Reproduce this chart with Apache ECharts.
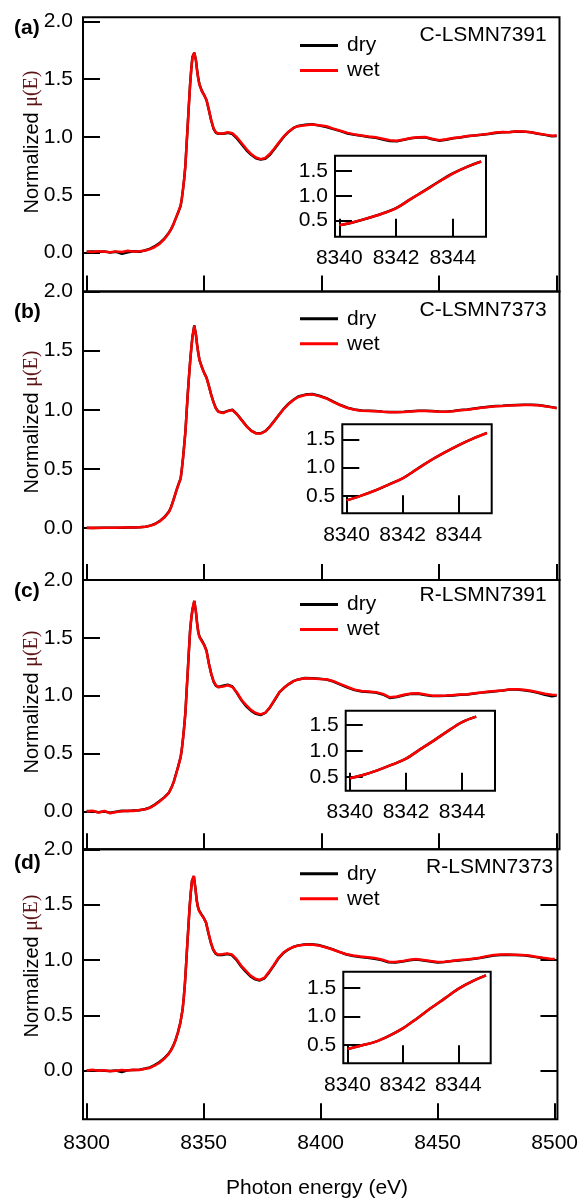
<!DOCTYPE html>
<html>
<head>
<meta charset="utf-8">
<script src="https://cdn.jsdelivr.net/npm/echarts@6/dist/echarts.min.js"></script>
<style>
  html, body { margin: 0; padding: 0; background: #fff; }
  #chart { width: 581px; height: 1202px; }
</style>
</head>
<body>
<div id="chart"></div>
<script>
// Photon energy grid (eV), shared by every spectrum
const energy = [
  8300, 8302.5, 8305, 8307.5, 8310, 8312.5, 8315, 8317.5, 8320, 8322.5, 8325,
  8327, 8329, 8331, 8333, 8335,
  8336, 8337, 8338, 8339,
  8340, 8340.5, 8341, 8341.5, 8342, 8342.5, 8343, 8343.5, 8344, 8344.5, 8345,
  8345.8, 8346.5, 8347, 8347.5,
  8348, 8349, 8350, 8351, 8352, 8353, 8354, 8355, 8356,
  8358, 8360, 8362, 8364, 8366, 8368, 8370, 8372, 8374, 8376, 8378, 8380, 8382, 8384, 8386, 8388, 8390,
  8393, 8396, 8399, 8402, 8405, 8408, 8411, 8414, 8417, 8420, 8423, 8426, 8429, 8432, 8435, 8438, 8441, 8444,
  8447, 8450, 8453, 8456, 8459, 8462, 8465, 8468, 8471, 8474, 8477, 8480, 8483, 8486, 8489, 8492, 8495, 8498,
  8500
];

// (a) C-LSMN7391
const dryA = [
  0.006, 0.008, 0.004, 0.010, 0.000, 0.006, -0.010, 0.002, 0.012, 0.006, 0.020,
  0.034, 0.055, 0.082, 0.120, 0.172,
  0.205, 0.250, 0.300, 0.350,
  0.405, 0.468, 0.548, 0.640, 0.752, 0.930, 1.105, 1.285, 1.452, 1.585, 1.692,
  1.728, 1.662, 1.575, 1.505,
  1.455, 1.400, 1.362, 1.318, 1.232, 1.140, 1.070, 1.035, 1.028,
  1.028, 1.035, 1.025, 0.985, 0.935, 0.885, 0.845, 0.815, 0.805, 0.812, 0.845, 0.898, 0.952, 1.004, 1.045, 1.078, 1.095,
  1.105, 1.110, 1.098, 1.085, 1.068, 1.050, 1.030, 1.018, 1.010, 1.000, 0.992, 0.978, 0.965, 0.962, 0.975, 0.988, 0.995, 0.996,
  0.980, 0.968, 0.976, 0.988, 0.996, 1.006, 1.012, 1.018, 1.025, 1.035, 1.040, 1.042, 1.048, 1.046, 1.040, 1.028, 1.018, 1.006,
  1.008
];
const wetA = [
  0.010, 0.004, 0.012, 0.006, 0.002, 0.010, 0.004, 0.016, 0.008, 0.012, 0.018,
  0.030, 0.048, 0.075, 0.115, 0.170,
  0.205, 0.248, 0.300, 0.352,
  0.410, 0.470, 0.550, 0.640, 0.750, 0.930, 1.100, 1.280, 1.450, 1.585, 1.690,
  1.730, 1.660, 1.570, 1.500,
  1.450, 1.395, 1.360, 1.320, 1.235, 1.145, 1.075, 1.040, 1.030,
  1.030, 1.040, 1.032, 0.995, 0.945, 0.895, 0.852, 0.822, 0.808, 0.818, 0.855, 0.905, 0.958, 1.008, 1.048, 1.078, 1.093,
  1.102, 1.108, 1.102, 1.092, 1.072, 1.053, 1.035, 1.022, 1.012, 1.004, 0.998, 0.985, 0.972, 0.968, 0.978, 0.990, 0.998, 1.000,
  0.984, 0.972, 0.980, 0.990, 0.998, 1.008, 1.012, 1.020, 1.028, 1.038, 1.042, 1.040, 1.050, 1.048, 1.040, 1.030, 1.020, 1.010,
  1.012
];

// (b) C-LSMN7373
const dryB = [
  0.001, 0.000, 0.001, 0.001, 0.002, 0.001, 0.002, 0.004, 0.004, 0.007, 0.011,
  0.020, 0.034, 0.058, 0.090, 0.138,
  0.182, 0.242, 0.306, 0.366,
  0.420, 0.500, 0.592, 0.700, 0.812, 0.972, 1.132, 1.272, 1.402, 1.517, 1.617,
  1.712, 1.632, 1.548, 1.478,
  1.422, 1.362, 1.312, 1.272, 1.202, 1.126, 1.062, 1.012, 0.985,
  0.975, 0.990, 1.000, 0.962, 0.912, 0.862, 0.824, 0.803, 0.801, 0.820, 0.860, 0.910, 0.962, 1.012, 1.053, 1.085, 1.112,
  1.128, 1.133, 1.118, 1.098, 1.068, 1.040, 1.017, 1.002, 0.994, 0.992, 0.990, 0.984, 0.980, 0.980, 0.982, 0.988, 0.992, 0.992,
  0.990, 0.986, 0.984, 0.990, 0.997, 1.002, 1.010, 1.018, 1.026, 1.032, 1.034, 1.038, 1.040, 1.042, 1.042, 1.040, 1.032, 1.022,
  1.014
];
const wetB = [
  0.000, 0.001, 0.000, 0.002, 0.001, 0.002, 0.003, 0.003, 0.005, 0.006, 0.010,
  0.018, 0.032, 0.055, 0.088, 0.135,
  0.180, 0.240, 0.305, 0.365,
  0.420, 0.500, 0.590, 0.700, 0.810, 0.970, 1.130, 1.270, 1.400, 1.515, 1.615,
  1.710, 1.630, 1.545, 1.475,
  1.420, 1.360, 1.310, 1.270, 1.200, 1.125, 1.060, 1.010, 0.982,
  0.972, 0.988, 0.998, 0.960, 0.910, 0.860, 0.822, 0.800, 0.798, 0.818, 0.858, 0.908, 0.960, 1.010, 1.050, 1.082, 1.108,
  1.125, 1.130, 1.115, 1.095, 1.065, 1.038, 1.015, 1.000, 0.992, 0.990, 0.988, 0.982, 0.978, 0.978, 0.980, 0.986, 0.990, 0.990,
  0.988, 0.984, 0.982, 0.988, 0.995, 1.000, 1.008, 1.016, 1.024, 1.030, 1.032, 1.036, 1.038, 1.040, 1.040, 1.038, 1.030, 1.020,
  1.012
];

// (c) R-LSMN7391
const dryC = [
  0.002, 0.000, -0.008, -0.002, -0.012, -0.004, 0.004, 0.002, 0.006, 0.008, 0.020,
  0.034, 0.058, 0.088, 0.120, 0.162,
  0.202, 0.252, 0.322, 0.392,
  0.470, 0.540, 0.630, 0.735, 0.850, 1.030, 1.205, 1.390, 1.560, 1.665, 1.745,
  1.818, 1.722, 1.625, 1.548,
  1.510, 1.478, 1.440, 1.388, 1.278, 1.188, 1.120, 1.085, 1.075,
  1.085, 1.095, 1.080, 1.020, 0.955, 0.905, 0.868, 0.842, 0.832, 0.850, 0.898, 0.962, 1.028, 1.068, 1.100, 1.125, 1.140,
  1.152, 1.150, 1.145, 1.140, 1.122, 1.095, 1.070, 1.048, 1.036, 1.032, 1.026, 1.010, 0.980, 0.988, 1.004, 1.015, 1.016, 1.006,
  0.996, 0.996, 0.998, 1.002, 1.008, 1.010, 1.018, 1.026, 1.032, 1.038, 1.044, 1.052, 1.052, 1.046, 1.038, 1.025, 1.008, 0.995,
  1.000
];
const wetC = [
  -0.002, 0.004, -0.012, 0.002, -0.018, -0.006, 0.000, 0.004, 0.002, 0.010, 0.018,
  0.030, 0.055, 0.085, 0.118, 0.160,
  0.200, 0.250, 0.320, 0.390,
  0.470, 0.540, 0.630, 0.735, 0.850, 1.030, 1.205, 1.390, 1.560, 1.665, 1.745,
  1.820, 1.720, 1.620, 1.545,
  1.505, 1.470, 1.435, 1.385, 1.275, 1.190, 1.125, 1.090, 1.072,
  1.078, 1.090, 1.075, 1.025, 0.960, 0.915, 0.875, 0.850, 0.838, 0.852, 0.900, 0.965, 1.030, 1.070, 1.100, 1.125, 1.140,
  1.150, 1.148, 1.143, 1.142, 1.125, 1.100, 1.075, 1.052, 1.040, 1.035, 1.030, 1.015, 0.985, 0.992, 1.008, 1.018, 1.020, 1.010,
  1.000, 1.000, 1.002, 1.005, 1.010, 1.012, 1.020, 1.028, 1.035, 1.040, 1.045, 1.055, 1.055, 1.050, 1.042, 1.030, 1.016, 1.008,
  1.005
];

// (d) R-LSMN7373
const dryD = [
  0.000, 0.004, 0.002, 0.000, -0.002, 0.002, -0.012, 0.004, 0.006, 0.008, 0.020,
  0.030, 0.050, 0.076, 0.110, 0.154,
  0.186, 0.226, 0.278, 0.346,
  0.430, 0.490, 0.555, 0.660, 0.790, 0.960, 1.140, 1.310, 1.480, 1.610, 1.715,
  1.758, 1.642, 1.545, 1.485,
  1.450, 1.415, 1.382, 1.338, 1.245, 1.160, 1.095, 1.060, 1.045,
  1.045, 1.055, 1.045, 1.002, 0.942, 0.895, 0.852, 0.825, 0.815, 0.835, 0.888, 0.950, 1.015, 1.062, 1.092, 1.115, 1.130,
  1.140, 1.142, 1.135, 1.118, 1.098, 1.074, 1.050, 1.036, 1.028, 1.020, 1.012, 1.000, 0.980, 0.978, 0.986, 0.998, 1.004, 0.996,
  0.986, 0.978, 0.982, 0.990, 0.996, 1.002, 1.010, 1.018, 1.030, 1.040, 1.046, 1.048, 1.046, 1.044, 1.036, 1.026, 1.016, 1.005,
  1.002
];
const wetD = [
  0.002, 0.008, 0.000, 0.004, -0.004, 0.000, 0.006, 0.002, 0.008, 0.006, 0.018,
  0.025, 0.045, 0.070, 0.105, 0.150,
  0.182, 0.222, 0.275, 0.345,
  0.430, 0.490, 0.555, 0.660, 0.790, 0.960, 1.140, 1.310, 1.480, 1.610, 1.715,
  1.760, 1.640, 1.540, 1.480,
  1.445, 1.410, 1.380, 1.340, 1.250, 1.165, 1.100, 1.065, 1.050,
  1.052, 1.060, 1.050, 1.010, 0.950, 0.905, 0.860, 0.832, 0.820, 0.840, 0.895, 0.955, 1.020, 1.065, 1.095, 1.115, 1.128,
  1.138, 1.140, 1.132, 1.115, 1.095, 1.072, 1.052, 1.040, 1.032, 1.025, 1.018, 1.005, 0.985, 0.982, 0.990, 1.002, 1.008, 1.000,
  0.990, 0.982, 0.985, 0.992, 1.000, 1.005, 1.012, 1.020, 1.035, 1.045, 1.050, 1.050, 1.048, 1.045, 1.040, 1.030, 1.020, 1.012,
  1.008
];

const panelTags = ['(a)', '(b)', '(c)', '(d)'];
const sampleNames = ['C-LSMN7391', 'C-LSMN7373', 'R-LSMN7391', 'R-LSMN7373'];
const seriesNames = ['dry', 'wet'];
const dryAll = [dryA, dryB, dryC, dryD];
const wetAll = [wetA, wetB, wetC, wetD];

// tick positions
const xTicks = [8300, 8350, 8400, 8450, 8500];
const yTicks = [0, 0.5, 1.0, 1.5, 2.0];
const insetXTicks = [8340, 8342, 8344];
const insetYTicks = [0.5, 1.0, 1.5];
// energy window shown in each inset
const insetWindow = [[8340, 8345], [8340, 8345], [8340, 8344.5], [8340, 8345]];

// ---- layout ----
const FONT = '"Liberation Sans", Arial, Helvetica, sans-serif';
const FS = 21;
const mainBoxes = [
  { top: 17.3,  height: 274.2, yMin: -0.337, yMax: 2.035 },
  { top: 291.5, height: 288.5, yMin: -0.44,  yMax: 2.0 },
  { top: 580,   height: 269.3, yMin: -0.329, yMax: 2.0 },
  { top: 849.3, height: 270,   yMin: -0.439, yMax: 2.0 }
];
const insetBoxes = [
  { left: 335,   top: 155.7, width: 151,   height: 81,   yMin: 0.177, yMax: 1.81 },
  { left: 342.3, top: 424.3, width: 149.4, height: 89,   yMin: 0.19,  yMax: 1.77 },
  { left: 345.7, top: 710.7, width: 149.3, height: 80,   yMin: 0.23,  yMax: 1.78 },
  { left: 343.3, top: 971.7, width: 147.4, height: 91.6, yMin: 0.18,  yMax: 1.78 }
];
const legendTops = [35, 308.3, 594, 863.3];
const nameY = [35, 310, 595.7, 867.7];
const nameRight = [546.7, 546.7, 546.7, 553.3];
const tagY = [28, 312, 591, 863];
const titleY = [142, 422, 702, 966];

const grids = [], xAxes = [], yAxes = [], series = [], legends = [], graphics = [];

const tickStyle = { color: '#000', width: 2 };
const plainNum = v => String(v);
const oneDec = v => v.toFixed(1);
const hiddenLine = { show: false, onZero: false };

mainBoxes.forEach((b, i) => {
  grids.push({ left: 83, width: 476.5, top: b.top, height: b.height,
    show: true, borderColor: '#000', borderWidth: 2, backgroundColor: 'transparent' });
  xAxes.push({
    type: 'value', gridIndex: i, min: 8298.43, max: 8501.2, position: 'bottom',
    axisLine: hiddenLine, splitLine: { show: false },
    axisTick: { show: true, inside: true, length: 16, lineStyle: tickStyle, customValues: xTicks },
    axisLabel: { show: i === 3, customValues: xTicks, fontSize: FS, fontFamily: FONT, color: '#000', margin: 13,
      formatter: plainNum }
  });
  yAxes.push({
    type: 'value', gridIndex: i, min: b.yMin, max: b.yMax, position: 'left',
    axisLine: hiddenLine, splitLine: { show: false },
    axisTick: { show: true, inside: true, length: 17, lineStyle: tickStyle, customValues: yTicks },
    axisLabel: { show: true, customValues: yTicks, fontSize: FS, fontFamily: FONT, color: '#000', margin: 10,
      formatter: oneDec }
  });
});

insetBoxes.forEach((b, i) => {
  grids.push({ left: b.left, top: b.top, width: b.width, height: b.height,
    show: true, borderColor: '#000', borderWidth: 2, backgroundColor: 'transparent' });
  xAxes.push({
    type: 'value', gridIndex: 4 + i, min: 8339.85, max: 8345.17, position: 'bottom',
    axisLine: hiddenLine, splitLine: { show: false },
    axisTick: { show: true, inside: true, length: 18, lineStyle: tickStyle, customValues: insetXTicks },
    axisLabel: { show: true, customValues: insetXTicks, fontSize: FS, fontFamily: FONT, color: '#000', margin: 11,
      formatter: plainNum }
  });
  yAxes.push({
    type: 'value', gridIndex: 4 + i, min: b.yMin, max: b.yMax, position: 'left',
    axisLine: hiddenLine, splitLine: { show: false },
    axisTick: { show: true, inside: true, length: 17, lineStyle: tickStyle, customValues: insetYTicks },
    axisLabel: { show: true, customValues: insetYTicks, fontSize: FS, fontFamily: FONT, color: '#000', margin: 7,
      formatter: oneDec }
  });
});

// mirrored ticks on the right edge of the bottom panel
yAxes.push({
  type: 'value', gridIndex: 3, position: 'right', min: mainBoxes[3].yMin, max: mainBoxes[3].yMax,
  axisLine: hiddenLine, splitLine: { show: false }, axisLabel: { show: false },
  axisTick: { show: true, inside: true, length: 17, lineStyle: tickStyle, customValues: [0, 0.5, 1.0, 1.5] }
});

const colors = ['#000000', '#ff0000'];

for (let i = 0; i < 4; i++) {
  [dryAll[i], wetAll[i]].forEach((vals, k) => {
    series.push({
      type: 'line', name: seriesNames[k], xAxisIndex: i, yAxisIndex: i,
      data: energy.map((e, j) => [e, vals[j]]),
      showSymbol: false, symbol: 'none', color: colors[k],
      lineStyle: { color: colors[k], width: 2.5 }, z: 2 + k, animation: false, silent: true
    });
  });
  [dryAll[i], wetAll[i]].forEach((vals, k) => {
    const w = insetWindow[i];
    const pts = energy.map((e, j) => [e, vals[j]]).filter(p => p[0] >= w[0] && p[0] <= w[1]);
    series.push({
      type: 'line', name: seriesNames[k], xAxisIndex: 4 + i, yAxisIndex: 4 + i,
      data: pts, smooth: 0.35,
      showSymbol: false, symbol: 'none', color: colors[k],
      lineStyle: { color: colors[k], width: 2.5 }, z: 6 + k, animation: false, silent: true
    });
  });

  legends.push({
    orient: 'vertical', left: 300, top: legendTops[i], padding: 0, itemGap: 4,
    itemWidth: 38, itemHeight: 3, icon: 'rect', selectedMode: false,
    data: seriesNames,
    textStyle: { fontSize: FS, fontFamily: FONT, color: '#000', padding: [0, 0, 0, 4] }
  });

  graphics.push({
    type: 'text', x: nameRight[i], y: nameY[i], z: 10,
    style: { text: sampleNames[i], fill: '#000', font: FS + 'px ' + FONT, align: 'right', verticalAlign: 'middle' }
  });
  graphics.push({
    type: 'text', x: 14, y: tagY[i], z: 10,
    style: { text: panelTags[i], fill: '#000', font: 'bold ' + FS + 'px ' + FONT, align: 'left', verticalAlign: 'middle' }
  });
  graphics.push({
    type: 'text', x: 32, y: titleY[i], rotation: Math.PI / 2, z: 10,
    style: {
      text: '{n|Normalized }{m|\u03bc(E)}', align: 'center', verticalAlign: 'middle',
      rich: {
        n: { fontSize: 20, fontFamily: FONT, fill: '#000' },
        m: { fontSize: 20, fontFamily: '"Liberation Serif", "Times New Roman", serif', fill: '#5c1414' }
      }
    }
  });
}

graphics.push({
  type: 'text', x: 317, y: 1188, z: 10,
  style: { text: 'Photon energy (eV)', fill: '#000', font: FS + 'px ' + FONT, align: 'center', verticalAlign: 'middle' }
});

const chart = echarts.init(document.getElementById('chart'), null, { renderer: 'canvas' });
chart.setOption({
  animation: false,
  backgroundColor: '#fff',
  grid: grids,
  xAxis: xAxes,
  yAxis: yAxes,
  legend: legends,
  series: series,
  graphic: graphics
});
</script>
</body>
</html>
